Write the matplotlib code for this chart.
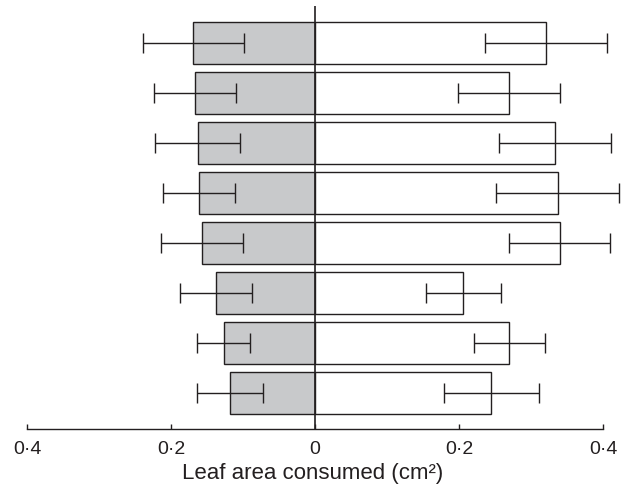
import numpy as np
import matplotlib.pyplot as plt

plt.rcParams["font.family"] = ["Liberation Sans", "DejaVu Sans"]

# bars listed top to bottom
left_vals = [0.169, 0.167, 0.163, 0.161, 0.157, 0.138, 0.127, 0.118]
left_err = [0.070, 0.057, 0.059, 0.050, 0.057, 0.050, 0.037, 0.046]
right_vals = [0.321, 0.269, 0.333, 0.337, 0.340, 0.206, 0.270, 0.245]
right_err = [0.085, 0.071, 0.078, 0.085, 0.070, 0.052, 0.049, 0.066]

tick_vals = [-0.4, -0.2, 0, 0.2, 0.4]
tick_labels = ["0\u00b74", "0\u00b72", "0", "0\u00b72", "0\u00b74"]

dark = "#231f20"
grey = "#c8c9cb"

y = np.arange(len(left_vals))
fig = plt.figure(figsize=(6.25, 4.86), dpi=100)
ax = fig.add_axes([0, 0.1163, 1, 0.8714])

ax.barh(y, -np.array(left_vals), height=0.84, color=grey, edgecolor=dark, linewidth=1.0, zorder=2)
ax.barh(y, right_vals, height=0.84, color="white", edgecolor=dark, linewidth=1.0, zorder=2)
ax.errorbar(-np.array(left_vals), y, xerr=left_err, fmt="none", ecolor=dark,
            elinewidth=1.0, capsize=7.5, capthick=1.0, zorder=3)
ax.errorbar(right_vals, y, xerr=right_err, fmt="none", ecolor=dark,
            elinewidth=1.0, capsize=7.5, capthick=1.0, zorder=3)
ax.axvline(0, color=dark, linewidth=1.2, zorder=4)

ax.set_xlim(-0.4375, 0.4306)
ax.set_ylim(7.73, -0.74)
for s in ["left", "right", "top"]:
    ax.spines[s].set_visible(False)
ax.spines["bottom"].set_bounds(-0.4, 0.4)
ax.spines["bottom"].set_color(dark)
ax.spines["bottom"].set_linewidth(1.0)
ax.set_yticks([])
ax.set_xticks(tick_vals)
ax.set_xticklabels(tick_labels, fontsize=14, color=dark)
ax.tick_params(axis="x", direction="in", length=3.5, width=1.0, color=dark, pad=8)
ax.set_xlabel("Leaf area consumed (cm\u00b2)", fontsize=16, labelpad=4, color=dark)

fig.savefig("out.png", dpi=100)
